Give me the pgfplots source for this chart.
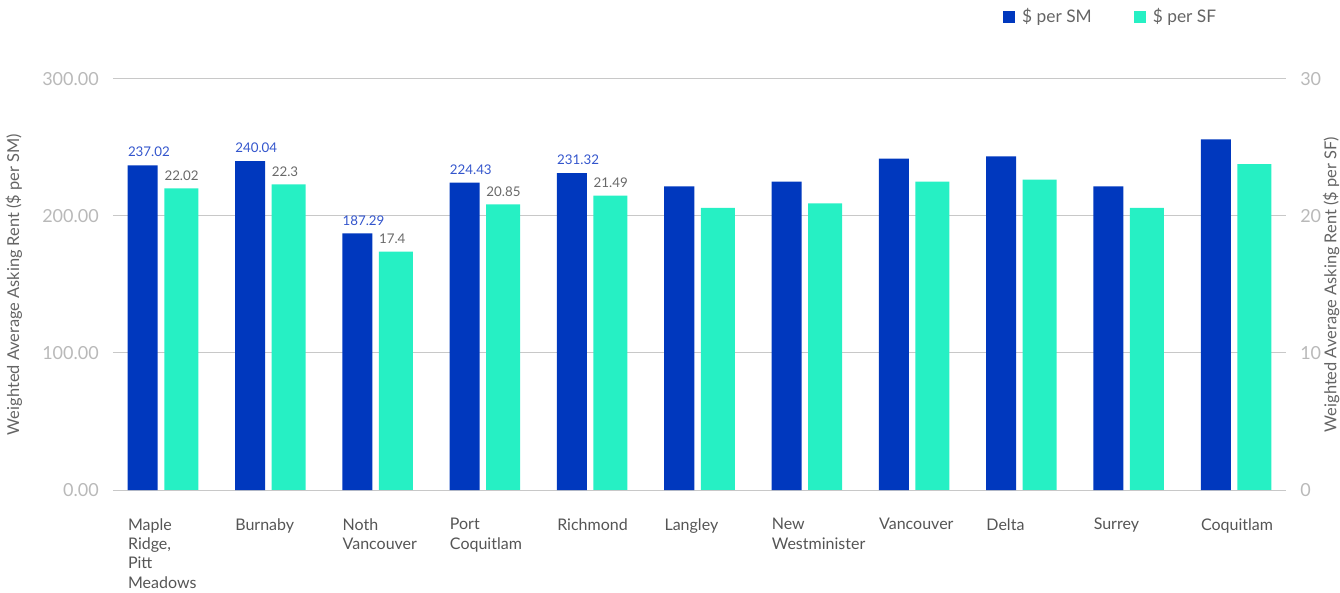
\documentclass[border=0pt]{standalone}
\usepackage{pgfplots}
\pgfplotsset{compat=1.18}
\usepackage{pgfplotstable}
\usepackage{fontspec}
\setmainfont{Lato}
\definecolor{smblue}{RGB}{0,56,190}
\definecolor{sfaqua}{RGB}{38,240,196}
\definecolor{gridgray}{RGB}{200,200,200}
\definecolor{ticklab}{RGB}{185,185,185}
\definecolor{catlab}{RGB}{85,85,85}
\definecolor{titlegray}{RGB}{100,100,100}
\definecolor{smlab}{RGB}{51,85,204}
\definecolor{sflab}{RGB}{105,105,105}

\pgfplotstableread{
x sm smlab sf sflab
0 237.02 237.02 22.02 22.02
1 240.04 240.04 22.30 22.3
2 187.29 187.29 17.40 17.4
3 224.43 224.43 20.85 20.85
4 231.32 231.32 21.49 21.49
5 221.7 {} 20.60 {}
6 225.1 {} 20.92 {}
7 241.9 {} 22.50 {}
8 243.6 {} 22.66 {}
9 221.7 {} 20.60 {}
10 256.0 {} 23.78 {}
}\data

\pgfplotsset{common/.style={
  at={(84.75pt,77.25pt)}, anchor=south west, scale only axis,
  width=879.75pt, height=308.25pt,
  xmin=-0.466, xmax=10.466, ymin=0,
  axis line style={draw=none}, major tick length=0pt, clip=false,
  tick label style={font=\fontsize{13.5}{16}\selectfont, text=ticklab},
  /pgf/number format/assume math mode=true,
}}

\begin{document}
\begin{tikzpicture}
\useasboundingbox (0,0) rectangle (1005pt,444.75pt);
\begin{axis}[common, ymax=300, ytick={0,100,200,300},
  ymajorgrids, grid style={gridgray, line width=0.75pt},
  yticklabel style={/pgf/number format/.cd, fixed, fixed zerofill, precision=2, /tikz/.cd,
    anchor=east, inner sep=0pt, xshift=-10.5pt},
  xtick={0,...,10},
  xticklabels={{Maple\\Ridge,\\Pitt\\Meadows},Burnaby,{Noth\\Vancouver},{Port\\Coquitlam},Richmond,Langley,{New\\Westminister},Vancouver,Delta,Surrey,Coquitlam},
  xticklabel style={anchor=north west, align=left, inner sep=0pt, xshift=-26.4pt, yshift=-21pt,
    font=\fontsize{12}{14.5}\selectfont, text=catlab},
  ylabel={Weighted Average Asking Rent (\$ per SM)},
  ylabel style={at={(axis description cs:-0.0844,0.5)}, anchor=center,
    font=\fontsize{12.3}{14}\selectfont, text=titlegray},
]
\addplot[ybar, bar width=22.5pt, bar shift=-15.19pt, fill=smblue, draw=none,
  point meta=explicit symbolic, nodes near coords,
  every node near coord/.append style={anchor=south west, xshift=-26.44pt, yshift=6pt,
    inner sep=0pt, font=\fontsize{10}{12}\selectfont, text=smlab}]
  table[x=x, y=sm, meta=smlab] {\data};
\end{axis}
\begin{axis}[common, ymax=30, ytick={0,10,20,30}, yticklabel pos=right, xtick=\empty,
  yticklabel style={anchor=west, inner sep=0pt, xshift=10.5pt},
  ylabel={Weighted Average Asking Rent (\$ per SF)},
  ylabel style={at={(axis description cs:1.0384,0.5)}, anchor=center,
    font=\fontsize{12.3}{14}\selectfont, text=titlegray},
  legend style={at={(axis description cs:0.7587,1.152)}, anchor=west, draw=none, fill=none,
    inner sep=0pt, legend columns=2, font=\fontsize{13}{15}\selectfont,
    nodes={inner sep=0pt, text=titlegray},
    /tikz/every even column/.append style={column sep=31.5pt}},
  legend image code/.code={\fill[#1] (0pt,-4.5pt) rectangle (9pt,4.5pt); \path (14.25pt,0pt);},
]
\addlegendimage{fill=smblue, draw=none}
\addlegendentry{\$ per SM}
\addplot[ybar, bar width=25.5pt, bar shift=13.69pt, fill=sfaqua, draw=none,
  point meta=explicit symbolic, nodes near coords,
  every node near coord/.append style={anchor=south west, xshift=0.94pt, yshift=5.5pt,
    inner sep=0pt, font=\fontsize{10}{12}\selectfont, text=sflab}]
  table[x=x, y=sf, meta=sflab] {\data};
\addlegendentry{\$ per SF}
\end{axis}
\end{tikzpicture}
\end{document}
